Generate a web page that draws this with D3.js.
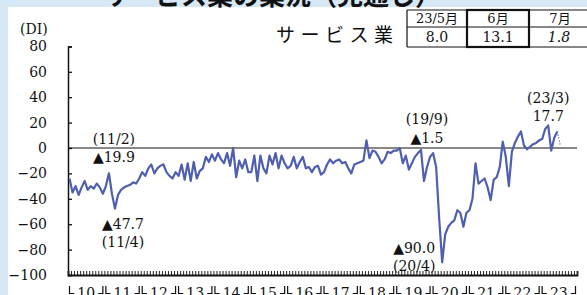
<!DOCTYPE html>
<html><head><meta charset="utf-8">
<script src="https://cdn.jsdelivr.net/npm/d3@7/dist/d3.min.js"></script>
<style>
html,body{margin:0;padding:0;background:#d6e7f6;}
svg{display:block;}
</style></head>
<body>
<svg id="c" width="587" height="295"></svg>
<script>
// ---- data (monthly DI, 2010/1 – 2023/7) ----
const di2010 = [-24, -35, -30, -37, -31, -26, -33, -30, -32, -28, -31, -36];
const di2011 = [-30, -19.9, -36, -47.7, -37, -33, -31, -30, -29, -27, -28, -24];
const di2012 = [-19, -22, -16, -13, -20, -16, -14, -13, -19, -22, -24, -19];
const di2013 = [-22, -13, -25, -12, -26, -11, -24, -18, -16, -7, -11, -5];
const di2014 = [-10, -4, -9, -12, -4, -14, 0, -23, -10, -16, -9, -19];
const di2015 = [-19, -6, -26, -6, -16, -20, -6, -13, -4, -16, -6, -12];
const di2016 = [-16, -14, -7, -16, -11, -7, -16, -15, -19, -15, -14, -21];
const di2017 = [-19, -13, -9, -12, -10, -9, -12, -11, -16, -20, -13, -12];
const di2018 = [-11, -10, 6, -8, -2, -3, -7, -12, -9, -3, -4, -2];
const di2019 = [-2, 0, -12, -6, -17, -12, -7, -4, -1.5, -26, -15, -7];
const di2020 = [-4, -15, -55, -90, -68, -62, -59, -57, -49, -51, -62, -51];
const di2021 = [-49, -40, -12, -28, -26, -24, -31, -41, -25, -23, -15, 5];
const di2022 = [-7, -30, -3, 4, 9, 13, 2, -1, 1, 3, 4, 6];
const di2023 = [7, 15, 17.7, -2, 8.0, 13.1, 1.8];

const yearLabels = ["10","11","12","13","14","15","16","17","18","19","20","21","22","23"];
const yTicks = [80, 60, 40, 20, 0, -20, -40, -60, -80, -100];

const tableHeads = ["23/5月", "6月", "7月"];
const tableVals = ["8.0", "13.1", "1.8"];

// annotations: month index, label lines
const notes = [
  {m: 13,  top: "(11/2)", bottom: "▲19.9", dx: 5,  dy1: -34, dy2: -16},
  {m: 15,  top: "▲47.7", bottom: "(11/4)", dx: 8,  dy1: 15, dy2: 33},
  {m: 116, top: "(19/9)", bottom: "▲1.5", dx: 6,  dy1: -31, dy2: -12},
  {m: 158, top: "(23/3)", bottom: "17.7", dx: 0,  dy1: -28, dy2: -10},
  {m: 123, top: "▲90.0", bottom: "(20/4)", dx: -28, dy1: -14, dy2: 4}
];

const series = [].concat(di2010, di2011, di2012, di2013, di2014, di2015, di2016,
  di2017, di2018, di2019, di2020, di2021, di2022, di2023);
const data = series.map((v, i) => ({m: i, v: v}));

// ---- layout ----
const svg = d3.select("#c");
const X0 = 68, X1 = 577, Ytop = 46.4, Ybot = 275;
const nMonths = yearLabels.length * 12;
const x = d3.scaleLinear().domain([0, nMonths]).range([X0, X1]);
const y = d3.scaleLinear().domain([-100, 80]).range([Ybot, Ytop]);

const serif = "'DejaVu Serif', 'Noto Sans CJK JP', serif";

// white panel
svg.append("rect").attr("x", 8).attr("y", 7).attr("width", 579).attr("height", 288).attr("fill", "#ffffff");

// cut-off title at very top
svg.append("text").attr("x", 103).attr("y", 5)
  .attr("font-family", "'Noto Sans CJK JP', sans-serif").attr("font-weight", 700)
  .attr("font-size", 26).attr("fill", "#111")
  .text("サービス業の業況（見通し）");

// (DI)
svg.append("text").attr("x", 20).attr("y", 34).attr("font-family", serif)
  .attr("font-size", 14).attr("fill", "#111").text("(DI)");

// y axis
const yAxis = d3.axisRight(y).tickValues(yTicks).tickSize(4).tickFormat("");
const gy = svg.append("g").attr("transform", `translate(${X0},0)`).call(yAxis);
gy.select(".domain").attr("stroke", "#111").attr("stroke-width", 1.5);
gy.selectAll(".tick line").attr("stroke", "#111").attr("stroke-width", 1.3);

svg.append("g").selectAll("text").data(yTicks).join("text")
  .attr("x", 47).attr("y", d => y(d)).attr("dy", "0.36em")
  .attr("text-anchor", "end").attr("font-family", serif).attr("font-size", 14)
  .attr("fill", "#111")
  .text(d => d < 0 ? "−" + Math.abs(d) : d);

// bottom axis with monthly comb ticks
const xAxis = d3.axisTop(x).tickValues(d3.range(0, nMonths + 1)).tickSize(4).tickFormat("");
const gx = svg.append("g").attr("transform", `translate(0,${Ybot})`).call(xAxis);
gx.select(".domain").attr("stroke", "#111").attr("stroke-width", 1.8);
gx.selectAll(".tick line").attr("stroke", "#222").attr("stroke-width", 1);

// zero line
svg.append("line").attr("x1", X0).attr("x2", X1).attr("y1", y(0)).attr("y2", y(0))
  .attr("stroke", "#111").attr("stroke-width", 1.2);

// year brackets with labels
const yb = svg.append("g");
yearLabels.forEach((lab, i) => {
  const a = x(i * 12) + 1.5, b = x((i + 1) * 12) - 1.5, c = (a + b) / 2;
  const ly = 293.5;
  yb.append("path")
    .attr("d", `M${a},286V${ly}H${c - 12}M${c + 12},${ly}H${b}V286`)
    .attr("fill", "none").attr("stroke", "#111").attr("stroke-width", 1.2);
  yb.append("text").attr("x", c).attr("y", 297.5).attr("text-anchor", "middle")
    .attr("font-family", serif).attr("font-size", 14).attr("fill", "#111").text(lab);
});

// line
const line = d3.line().x(d => x(d.m + 0.5)).y(d => y(d.v));
svg.append("path").datum(data.slice(0, data.length - 1))
  .attr("d", line).attr("fill", "none").attr("stroke", "#4f5fb0")
  .attr("stroke-width", 2.2).attr("stroke-linejoin", "round");
svg.append("path").datum(data.slice(data.length - 2))
  .attr("d", line).attr("fill", "none").attr("stroke", "#6f7fc0")
  .attr("stroke-width", 1.2).attr("stroke-dasharray", "1.5,1.5");

// annotations
const ga = svg.append("g").attr("font-family", serif).attr("font-size", 14).attr("fill", "#111");
notes.forEach(n => {
  const px = x(n.m + 0.5), py = y(series[n.m]);
  ga.append("text").attr("x", px + n.dx).attr("y", py + n.dy1).attr("dy", "0.36em")
    .attr("text-anchor", "middle").text(n.top);
  ga.append("text").attr("x", px + n.dx).attr("y", py + n.dy2).attr("dy", "0.36em")
    .attr("text-anchor", "middle").text(n.bottom);
});

// series name + table
svg.append("text").attr("x", 276).attr("y", 42)
  .attr("font-family", "'Noto Sans CJK JP', sans-serif").attr("font-size", 19)
  .attr("letter-spacing", 5.5).attr("fill", "#111").text("サービス業");

const tx = [407, 467, 529, 591], tyTop = 10, tyMid = 27, tyBot = 47;
const tg = svg.append("g").attr("stroke", "#111").attr("fill", "none");
[tyTop, tyMid, tyBot].forEach(v => tg.append("line").attr("x1", tx[0]).attr("x2", 591).attr("y1", v).attr("y2", v).attr("stroke-width", 1.2));
tx.forEach(v => tg.append("line").attr("x1", v).attr("x2", v).attr("y1", tyTop).attr("y2", tyBot).attr("stroke-width", 1.2));
tg.append("rect").attr("x", tx[1]).attr("y", tyTop).attr("width", tx[2] - tx[1]).attr("height", tyBot - tyTop).attr("stroke-width", 2.2);

const cx = i => (tx[i] + tx[i + 1]) / 2;
svg.append("g").selectAll("text").data(tableHeads).join("text")
  .attr("x", (d, i) => cx(i)).attr("y", 18.5).attr("dy", "0.36em").attr("text-anchor", "middle")
  .attr("font-family", serif).attr("font-size", 13).attr("fill", "#111").text(d => d);
svg.append("g").selectAll("text").data(tableVals).join("text")
  .attr("x", (d, i) => cx(i) - (i === 2 ? 1 : 0)).attr("y", 37).attr("dy", "0.36em").attr("text-anchor", "middle")
  .attr("font-family", serif).attr("font-size", 14).attr("fill", "#111")
  .attr("font-style", (d, i) => i === 2 ? "italic" : "normal").text(d => d);
</script>
</body></html>
